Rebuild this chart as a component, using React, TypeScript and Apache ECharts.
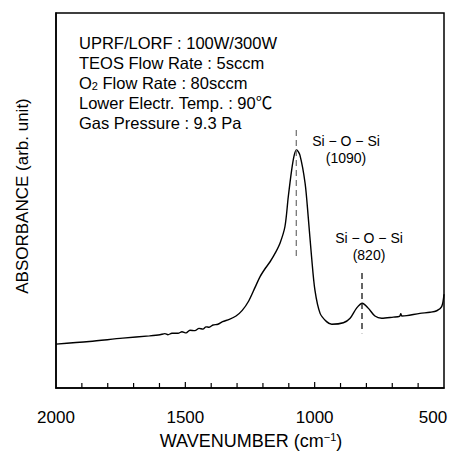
import React, { useEffect, useRef } from "react";
import * as echarts from "echarts";

// Wavenumber (cm^-1), from 2000 down to 500
const WAVENUMBER = [
  2000, 1871, 1742, 1639, 1598, 1579, 1567, 1552, 1528, 1513, 1497, 1482, 1463,
  1447, 1432, 1420, 1408, 1393, 1374, 1356, 1330, 1304, 1280, 1255, 1230, 1211,
  1190, 1173, 1150, 1134, 1115, 1102, 1089, 1079, 1070, 1057, 1037, 1025, 1012,
  999, 979, 954, 934, 889, 863, 838, 816, 793, 767, 741, 696, 672, 667, 663,
  644, 593, 554, 528, 509, 500,
];
// Absorbance (arb. unit)
const ABSORBANCE = [
  11.7, 12.4, 13.3, 13.9, 14.2, 14.5, 14.2, 14.6, 14.6, 15.0, 14.7, 15.4, 15.3,
  15.9, 15.7, 16.3, 16.2, 16.8, 17.0, 17.7, 18.3, 19.2, 20.7, 23.2, 26.9, 29.7,
  32.0, 33.6, 36.3, 38.6, 43.0, 51.0, 58.1, 62.1, 63.5, 62.1, 54.6, 45.7, 35.0,
  26.1, 19.9, 17.7, 17.0, 17.4, 18.6, 21.3, 22.6, 21.3, 19.2, 18.6, 18.9, 19.1,
  19.8, 19.2, 19.3, 19.9, 20.2, 20.6, 21.7, 25.0,
];

// Peak markers: position (cm^-1) and dashed-line vertical extent (arb. unit)
const PEAK_POS = [1071, 817];
const PEAK_TOP = [68.8, 30.7];
const PEAK_BOTTOM = [34.9, 14.6];
const PEAK_NAMES = ["Si − O − Si", "Si − O − Si"];
const PEAK_LABELS = ["(1090)", "(820)"];

const CONDITIONS = [
  "UPRF/LORF : 100W/300W",
  "TEOS Flow Rate : 5sccm",
  "O{sub|2} Flow Rate : 80sccm",
  "Lower Electr. Temp. : 90℃",
  "Gas Pressure : 9.3 Pa",
];

// Tick marks on the wavenumber axis (every 100 cm^-1), labels every 500
const X_TICK_MARKS = [1900, 1800, 1700, 1600, 1500, 1400, 1300, 1200, 1100, 1000, 900, 800, 700, 600];
const X_TICKS = [2000, 1500, 1000, 500];

const FONT = "'Liberation Sans', Arial, 'Noto Sans CJK JP', sans-serif";

export default function App() {
  const ref = useRef<HTMLDivElement>(null);

  useEffect(() => {
    if (!ref.current) return;
    const chart = echarts.init(ref.current, undefined, { renderer: "svg" });

    const spectrum = WAVENUMBER.map((w, i) => [w, ABSORBANCE[i]]);
    const markerSeries = PEAK_POS.map((p, i) => ({
      type: "line",
      data: [
        [p, PEAK_TOP[i]],
        [p, PEAK_BOTTOM[i]],
      ],
      showSymbol: false,
      lineStyle: {
        color: i === 0 ? "#777" : "#111",
        width: 1.3,
        type: [6, 4],
      },
    }));

    const labelPos = [
      [346, 141, 158],
      [369, 238, 255],
    ];

    const graphics: any[] = [];
    CONDITIONS.forEach((t, i) => {
      graphics.push({
        type: "text",
        left: 79,
        top: 44 + i * 20 - 9,
        style: {
          text: t,
          fontSize: 16.5,
          fontFamily: FONT,
          fill: "#000",
          rich: {
            sub: { fontSize: 11, fontFamily: FONT, verticalAlign: "bottom", padding: [6, 0, 0, 0] },
          },
        },
      });
    });
    PEAK_NAMES.forEach((n, i) => {
      graphics.push({
        type: "text",
        x: labelPos[i][0],
        y: labelPos[i][1],
        style: {
          text: n,
          fontSize: 14,
          fontFamily: FONT,
          fill: "#000",
          align: "center",
          verticalAlign: "middle",
        },
      });
      graphics.push({
        type: "text",
        x: labelPos[i][0],
        y: labelPos[i][2],
        style: {
          text: PEAK_LABELS[i],
          fontSize: 14,
          fontFamily: FONT,
          fill: "#000",
          align: "center",
          verticalAlign: "middle",
        },
      });
    });
    graphics.push({
      type: "text",
      x: 251,
      y: 441,
      style: {
        text: "WAVENUMBER (cm{sup|−1})",
        fontSize: 18,
        fontFamily: FONT,
        fill: "#000",
        align: "center",
        verticalAlign: "middle",
        rich: {
          sup: { fontSize: 11, fontFamily: FONT, verticalAlign: "top", padding: [0, 0, 8, 0] },
        },
      },
    });
    graphics.push({
      type: "text",
      x: 22,
      y: 196,
      rotation: Math.PI / 2,
      style: {
        text: "ABSORBANCE (arb. unit)",
        fontSize: 17,
        fontFamily: FONT,
        fill: "#000",
        align: "center",
        verticalAlign: "middle",
      },
    });

    chart.setOption({
      animation: false,
      backgroundColor: "#fff",
      grid: {
        left: 56,
        right: 16,
        top: 13,
        bottom: 68,
        show: true,
        borderColor: "#000",
        borderWidth: 1.5,
      },
      xAxis: {
        type: "value",
        min: 500,
        max: 2000,
        interval: 500,
        inverse: true,
        axisLine: { show: true, onZero: false, lineStyle: { color: "#000", width: 1.5 } },
        axisTick: { show: false },
        splitLine: { show: false },
        axisLabel: {
          show: true,
          fontSize: 17,
          fontFamily: FONT,
          color: "#000",
          margin: 21,
          formatter: (v: number) =>
            X_TICKS.includes(v) ? (v === 500 ? "{r|" + v + "}" : String(v)) : "",
          rich: {
            r: { fontSize: 17, fontFamily: FONT, color: "#000", padding: [0, 22, 0, 0] },
          },
        },
      },
      yAxis: {
        type: "value",
        min: 0,
        max: 100,
        axisLine: { show: true, lineStyle: { color: "#000", width: 1.5 } },
        axisTick: { show: false },
        axisLabel: { show: false },
        splitLine: { show: false },
      },
      series: [
        {
          type: "line",
          data: spectrum,
          showSymbol: false,
          smooth: 0.3,
          lineStyle: { color: "#000", width: 1.4 },
        },
        ...markerSeries,
      ],
      graphic: graphics,
    });

    // Tick marks placed through the chart's own x scale
    const tickGraphics = X_TICK_MARKS.map((v) => {
      const p = chart.convertToPixel({ gridIndex: 0 }, [v, 0]) as number[];
      const len = v % 500 === 0 ? 6 : 5;
      return {
        type: "line",
        shape: { x1: p[0], y1: p[1], x2: p[0], y2: p[1] - len },
        style: { stroke: "#000", lineWidth: 1.2 },
        z: 100,
      };
    });
    chart.setOption({ graphic: [...graphics, ...tickGraphics] });

    return () => chart.dispose();
  }, []);

  return (
    <div
      ref={ref}
      style={{ position: "absolute", left: 0, top: 0, width: 460, height: 456 }}
    />
  );
}
